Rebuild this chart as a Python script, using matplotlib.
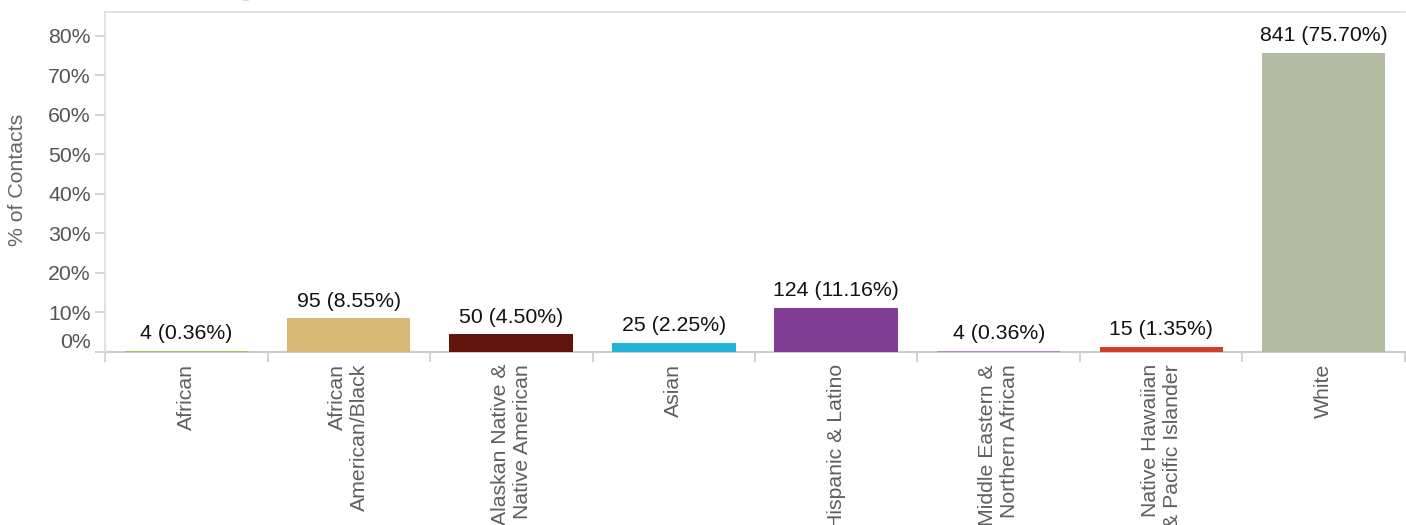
import matplotlib
matplotlib.use("Agg")
import matplotlib.pyplot as plt
from matplotlib.transforms import ScaledTranslation
from matplotlib.patches import Circle

plt.rcParams['font.family'] = ['Liberation Sans', 'DejaVu Sans']

categories = ["African", "African\nAmerican/Black", "Alaskan Native &\nNative American",
              "Asian", "Hispanic & Latino", "Middle Eastern &\nNorthern African",
              "Native Hawaiian\n& Pacific Islander", "White"]
counts = [4, 95, 50, 25, 124, 4, 15, 841]
percents = [0.36, 8.55, 4.50, 2.25, 11.16, 0.36, 1.35, 75.70]
colors = ["#9cc46a", "#d5b872", "#62140c", "#24b4d8", "#823e94", "#b48bc5", "#d2402a", "#b3bca1"]
yticks = [0, 10, 20, 30, 40, 50, 60, 70, 80]

W, H = 1406, 525
FS = 15.3
fig = plt.figure(figsize=(W / 100, H / 100), dpi=100)
ax = fig.add_axes([105 / W, 1 - 352 / H, 1300 / W, 340 / H])

x = list(range(len(categories)))
ax.bar(x, percents, width=0.76, color=colors, zorder=3)
ax.set_xlim(-0.5, len(categories) - 0.5)
ax.set_ylim(0, 86)

for xi, c, p in zip(x, counts, percents):
    ax.annotate(f"{c} ({p:.2f}%)", (xi, p), xytext=(0, 5.5), textcoords="offset points",
                ha="center", va="bottom", fontsize=FS, color="#111111")

ax.set_yticks(yticks)
ax.set_yticklabels([f"{t}%" for t in yticks])
ax.set_xticks([i - 0.5 for i in range(len(categories) + 1)], minor=False)
ax.set_xticklabels([])
ax.set_xticks(x, minor=True)
ax.set_xticklabels(categories, minor=True, rotation=90, ha="center", va="top",
                   multialignment="right", fontsize=FS, color="#5f5f5f")
ax.tick_params(axis="x", which="minor", length=0, pad=8.5)
ax.tick_params(axis="x", which="major", length=7.2, color="#cccccc", width=1.2)
ax.tick_params(axis="y", length=7.2, color="#cccccc", width=1.2, pad=3,
               labelsize=FS, labelcolor="#555555")

for lbl in ax.get_yticklabels():
    if lbl.get_text() == "0%":
        lbl.set_transform(lbl.get_transform() + ScaledTranslation(0, 0.12, fig.dpi_scale_trans))

for s in ["left", "top"]:
    ax.spines[s].set_color("#dddddd")
    ax.spines[s].set_linewidth(1.2)
ax.spines["right"].set_visible(False)
ax.spines["bottom"].set_color("#cccccc")
ax.spines["bottom"].set_linewidth(1.5)
ax.spines["bottom"].set_zorder(2)

fig.text(18 / W, 1 - 180 / H, "% of Contacts", rotation=90, ha="center", va="center",
         fontsize=FS, color="#666666")

fig.patches.append(Circle((246 / W, 1 + 2 / H), 5 / W, transform=fig.transFigure,
                          color="#9cc46a", clip_on=False))

fig.savefig("out.png", dpi=100)
